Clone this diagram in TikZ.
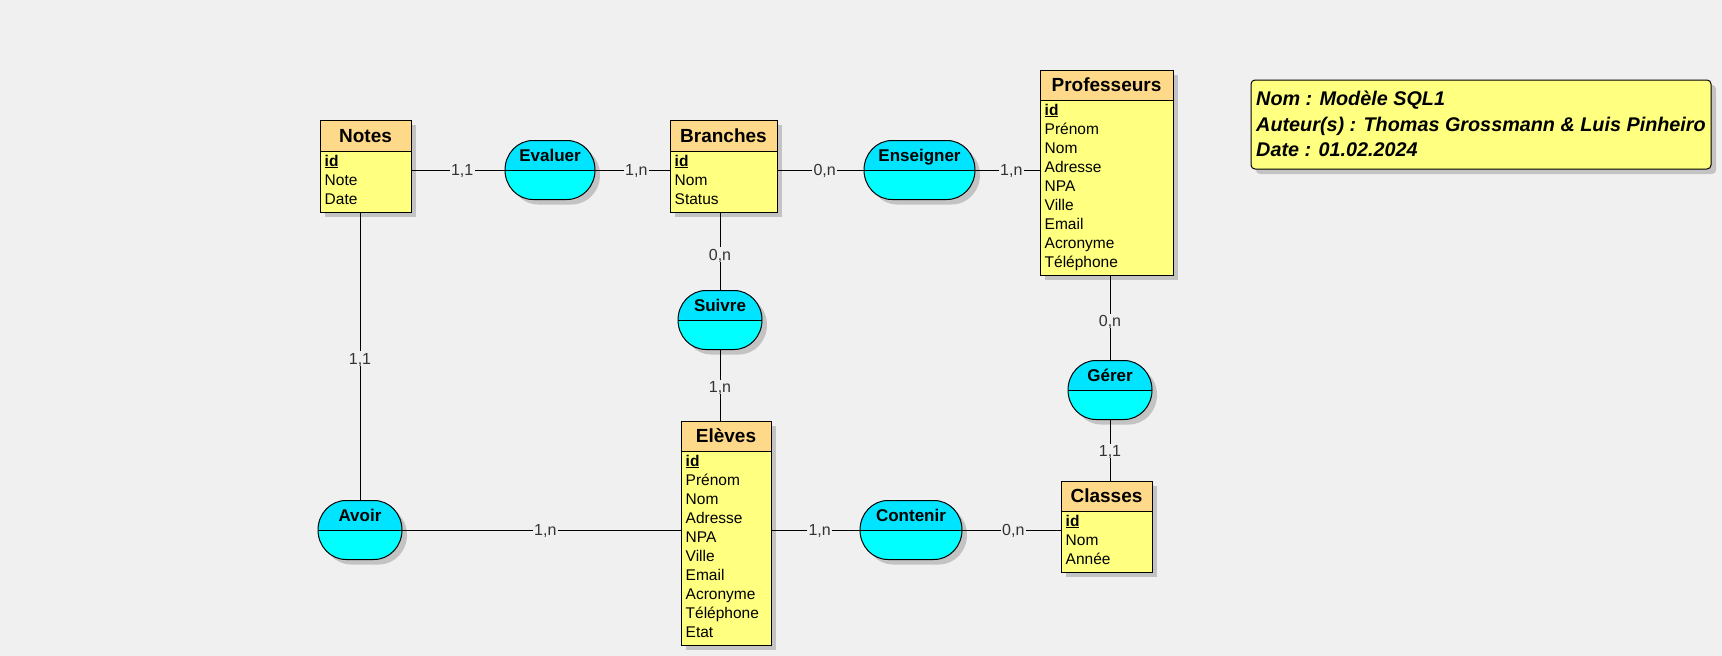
\documentclass[tikz,border=0pt]{standalone}
\usepackage{fontspec}
\setmainfont{Liberation Sans}
\usetikzlibrary{fit}
\definecolor{bgc}{RGB}{240,240,240}
\definecolor{shadowc}{RGB}{195,195,195}
\definecolor{enthead}{RGB}{255,217,138}
\definecolor{entbody}{RGB}{255,255,128}
\definecolor{assoctop}{RGB}{0,228,255}
\definecolor{assocbot}{RGB}{0,255,255}
\newcommand\stadpath[4]{(#1+28,#2) -- (#3-28,#2) .. controls (#3-12.5,#2) and (#3,{(#2+#4)/2-16.3}) .. (#3,{(#2+#4)/2}) .. controls (#3,{(#2+#4)/2+16.3}) and (#3-12.5,#4) .. (#3-28,#4) -- (#1+28,#4) .. controls (#1+12.5,#4) and (#1,{(#2+#4)/2+16.3}) .. (#1,{(#2+#4)/2}) .. controls (#1,{(#2+#4)/2-16.3}) and (#1+12.5,#2) .. cycle}
\newcommand\myentity[8]{%
  \fill[shadowc] (#2+5,#3+5) rectangle (#4+5,#6+5);
  \fill[entbody] (#2,#5) rectangle (#4,#6);
  \fill[enthead] (#2,#3) rectangle (#4,#5);
  \draw[line width=1pt] (#2,#5) -- (#4,#5);
  \node[draw, line width=1pt, inner sep=0pt, fit={(#2,#3)(#4,#6)}] (#1) {};
  \node[enttitle, anchor=base] (#1-t) at ({(#2+#4)/2},{(#3+#5)/2+6.8}) {#7};
  \foreach \r [count=\i] in {#8} {
    \node[attr, anchor=base west] (#1-r\i) at (#2+4.5,{#5+15+19*(\i-1)}) {\r};
  }
}
\newcommand\myassoc[5]{%
  \pgfmathsetmacro\asxa{#2-#4/2}\pgfmathsetmacro\asxb{#2+#4/2}%
  \pgfmathsetmacro\asya{#3-29.5}\pgfmathsetmacro\asyb{#3+29.5}%
  \begin{scope}[shift={(5,5)}]
    \fill[shadowc] \stadpath{\asxa}{\asya}{\asxb}{\asyb};
  \end{scope}
  \fill[assocbot] \stadpath{\asxa}{\asya}{\asxb}{\asyb};
  \begin{scope}
    \clip (\asxa-1,\asya-1) rectangle (\asxb+1,#3);
    \fill[assoctop] \stadpath{\asxa}{\asya}{\asxb}{\asyb};
  \end{scope}
  \draw[line width=1pt] (\asxa,#3) -- (\asxb,#3);
  \draw[line width=1pt] \stadpath{\asxa}{\asya}{\asxb}{\asyb};
  \node[inner sep=0pt, fit={(\asxa,\asya)(\asxb,\asyb)}] (#1) {};
  \node[assoclabel, anchor=base] (#1-l) at (#2,{#3-8.65}) {#5};
}
\tikzset{
  enttitle/.style={inner sep=0pt, font=\fontsize{19}{22}\selectfont\bfseries},
  attr/.style={inner sep=0pt, font=\fontsize{15.5}{19}\selectfont},
  assoclabel/.style={inner sep=0pt, font=\fontsize{17}{20}\selectfont\bfseries},
  card/.style={fill=bgc, inner xsep=1.5pt, inner ysep=1.5pt, text height=11.5pt, text depth=0pt, text=black!80, font=\fontsize{16}{18}\selectfont},
  infotext/.style={inner sep=0pt, anchor=base west, font=\fontsize{19.8}{24}\selectfont\bfseries\itshape},
  conn/.style={line width=1pt}
}
\begin{document}
\begin{tikzpicture}[x=1pt,y=-1pt]
\fill[bgc] (0,0) rectangle (1722,656);
\useasboundingbox (0,0) rectangle (1722,656);

% entities
\myentity{notes}{320}{120}{411}{151}{212}{Notes}{\underline{\textbf{id}},Note,Date}
\myentity{branches}{670}{120}{777}{151}{212}{Branches}{\underline{\textbf{id}},Nom,Status}
\myentity{prof}{1040}{70}{1173}{100}{275}{Professeurs}{\underline{\textbf{id}},Prénom,Nom,Adresse,NPA,Ville,Email,Acronyme,Téléphone}
\myentity{eleves}{681}{421}{771}{451}{645}{Elèves}{\underline{\textbf{id}},Prénom,Nom,Adresse,NPA,Ville,Email,Acronyme,Téléphone,Etat}
\myentity{classes}{1061}{481}{1152}{511}{572}{Classes}{\underline{\textbf{id}},Nom,Année}

% associations
\myassoc{evaluer}{550}{170}{90}{Evaluer}
\myassoc{enseigner}{919.5}{170}{111}{Enseigner}
\myassoc{suivre}{720}{320}{84}{Suivre}
\myassoc{gerer}{1110}{390}{84}{Gérer}
\myassoc{avoir}{360}{530}{84}{Avoir}
\myassoc{contenir}{911}{530}{102}{Contenir}

% connectors
\draw[conn] (notes.east |- evaluer) -- node[card, xshift=4] (c1) {1,1} (evaluer.west);
\draw[conn] (evaluer.east) -- node[card, xshift=4] (c2) {1,n} (branches.west |- evaluer);
\draw[conn] (branches.east |- enseigner) -- node[card, xshift=4] (c3) {0,n} (enseigner.west);
\draw[conn] (enseigner.east) -- node[card, xshift=4] (c4) {1,n} (prof.west |- enseigner);
\draw[conn] (suivre |- branches.south) -- node[card, yshift=-3] (c5) {0,n} (suivre.north);
\draw[conn] (suivre.south) -- node[card, yshift=-2] (c6) {1,n} (suivre |- eleves.north);
\draw[conn] (gerer |- prof.south) -- node[card, yshift=-3] (c7) {0,n} (gerer.north);
\draw[conn] (gerer.south) -- node[card, yshift=-1] (c8) {1,1} (gerer |- classes.north);
\draw[conn] (avoir |- notes.south) -- node[card, yshift=-2] (c9) {1,1} (avoir.north);
\draw[conn] (avoir.east) -- node[card, xshift=4] (c10) {1,n} (eleves.west |- avoir);
\draw[conn] (eleves.east |- contenir) -- node[card, xshift=4] (c11) {1,n} (contenir.west);
\draw[conn] (contenir.east) -- node[card, xshift=2] (c12) {0,n} (classes.west |- contenir);

% info box
\fill[shadowc, rounded corners=4pt] (1256,85) rectangle (1716,174);
\node[draw, line width=1pt, fill=entbody, rounded corners=4pt, inner sep=0pt, fit={(1251,80)(1711,169)}] (info) {};
\node[infotext] (info1) at (1256,105.5) {Nom : Modèle SQL1};
\node[infotext] (info2) at (1256,131.1) {Auteur(s) : Thomas Grossmann \& Luis Pinheiro};
\node[infotext] (info3) at (1256,156.5) {Date : 01.02.2024};
\end{tikzpicture}
\end{document}
